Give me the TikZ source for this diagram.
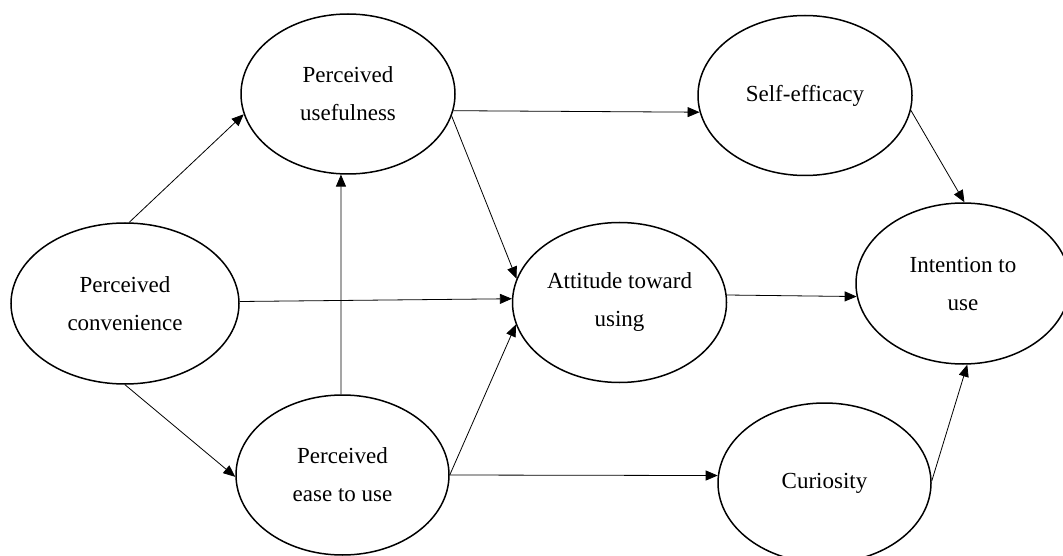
\documentclass[tikz,border=0pt]{standalone}
\usepackage{fontspec}
\setmainfont{Liberation Serif}
\usetikzlibrary{shapes.geometric,arrows.meta}
\begin{document}
\begin{tikzpicture}[x=1pt,y=-1pt,
  construct/.style={ellipse,draw,line width=1.5pt,inner sep=0pt,align=center,
    font=\fontsize{23}{38}\selectfont},
  link/.style={line width=0.8pt,-{Triangle[length=12pt,width=10pt]}}]
\useasboundingbox (0,0) rectangle (1063,556);
\node[construct,minimum width=214pt,minimum height=160pt] (PU) at (348,94) {Perceived\\usefulness};
\node[construct,minimum width=214pt,minimum height=160pt] (SE) at (805,95.5) {Self-efficacy};
\node[construct,minimum width=228pt,minimum height=161pt] (PC) at (125,303.5) {Perceived\\convenience};
\node[construct,minimum width=214pt,minimum height=160pt] (AT) at (619.5,302.5) {Attitude toward\\using};
\node[construct,minimum width=214pt,minimum height=161pt] (IN) at (963,283.5) {Intention to\\use};
\node[construct,minimum width=213pt,minimum height=160pt] (PE) at (342.5,475) {Perceived\\ease to use};
\node[construct,minimum width=213pt,minimum height=160pt] (CU) at (824.5,483) {Curiosity};
\draw[link] (PU.-9.6) -- (SE.-171.3);
\draw[link] (PU.-12.2) -- (AT.167.2);
\draw[link] (PC.87.2) -- (PU.-169.1);
\draw[link] (PC.1.8) -- (AT.178.7);
\draw[link] (PC.-90.7) -- (PE.181.1);
\draw[link] (PE.91.1) -- (PU.-95);
\draw[link] (PE.0) -- (AT.-168.3);
\draw[link] (PE.-0.5) -- (CU.176.2);
\draw[link] (AT.4) -- (IN.-173.9);
\draw[link] (SE.-8.2) -- (IN.89.3);
\draw[link] (CU.1.6) -- (IN.-87.9);
\end{tikzpicture}
\end{document}
